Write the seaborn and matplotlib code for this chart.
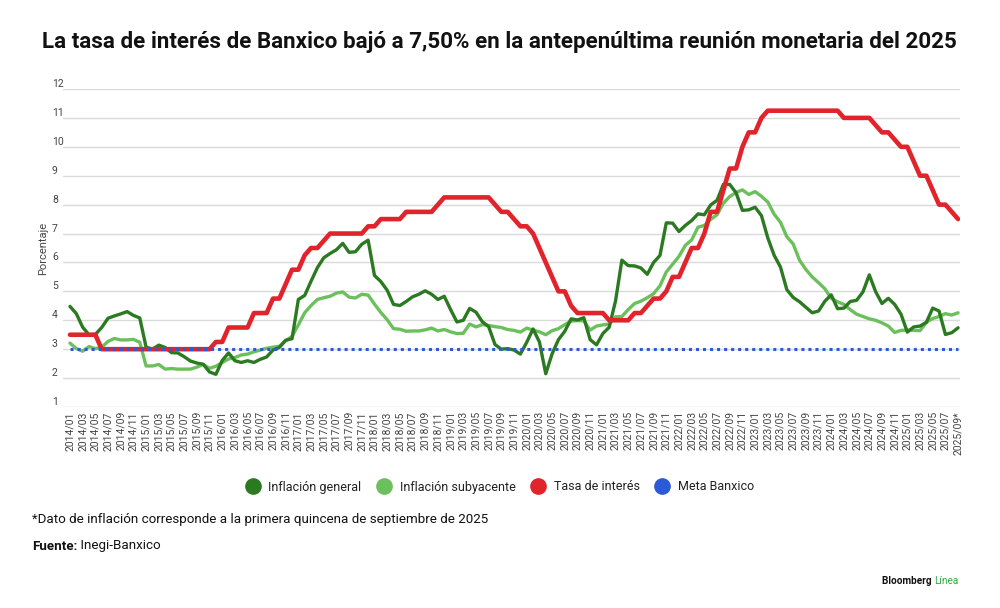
import numpy as np
import pandas as pd
import matplotlib
matplotlib.use("Agg")
import matplotlib.pyplot as plt
import seaborn as sns
from matplotlib.lines import Line2D

# monthly data, 2014/01 .. 2025/09 (last = first half of September 2025)
inflacion_general = [
    4.48, 4.23, 3.76, 3.50, 3.51, 3.75, 4.07, 4.15, 4.22, 4.30, 4.17, 4.08,  # 2014
    3.07, 3.00, 3.14, 3.06, 2.88, 2.87, 2.74, 2.59, 2.52, 2.48, 2.21, 2.13,  # 2015
    2.61, 2.87, 2.60, 2.54, 2.60, 2.54, 2.65, 2.73, 2.97, 3.06, 3.31, 3.36,  # 2016
    4.72, 4.86, 5.35, 5.82, 6.16, 6.31, 6.44, 6.66, 6.35, 6.37, 6.63, 6.77,  # 2017
    5.55, 5.34, 5.04, 4.55, 4.51, 4.65, 4.81, 4.90, 5.02, 4.90, 4.72, 4.83,  # 2018
    4.37, 3.94, 4.00, 4.41, 4.28, 3.95, 3.78, 3.16, 3.00, 3.02, 2.97, 2.83,  # 2019
    3.24, 3.70, 3.25, 2.15, 2.84, 3.33, 3.62, 4.05, 4.01, 4.09, 3.33, 3.15,  # 2020
    3.54, 3.76, 4.67, 6.08, 5.89, 5.88, 5.81, 5.59, 6.00, 6.24, 7.37, 7.36,  # 2021
    7.07, 7.28, 7.45, 7.68, 7.65, 7.99, 8.15, 8.70, 8.70, 8.41, 7.80, 7.82,  # 2022
    7.91, 7.62, 6.85, 6.25, 5.84, 5.06, 4.79, 4.64, 4.45, 4.26, 4.32, 4.66,  # 2023
    4.88, 4.40, 4.42, 4.65, 4.69, 4.98, 5.57, 4.99, 4.58, 4.76, 4.55, 4.21,  # 2024
    3.59, 3.77, 3.80, 3.93, 4.42, 4.32, 3.51, 3.57, 3.74,                    # 2025
]
inflacion_subyacente = [
    3.21, 3.02, 2.93, 3.09, 3.02, 3.07, 3.27, 3.37, 3.32, 3.32, 3.34, 3.24,
    2.42, 2.42, 2.47, 2.31, 2.33, 2.31, 2.31, 2.31, 2.38, 2.47, 2.34, 2.41,
    2.54, 2.66, 2.71, 2.80, 2.83, 2.91, 2.97, 3.03, 3.07, 3.10, 3.29, 3.44,
    3.84, 4.26, 4.51, 4.72, 4.78, 4.83, 4.94, 4.98, 4.80, 4.77, 4.90, 4.87,
    4.56, 4.27, 4.02, 3.71, 3.69, 3.62, 3.63, 3.63, 3.67, 3.73, 3.63, 3.68,
    3.60, 3.54, 3.55, 3.87, 3.77, 3.85, 3.82, 3.78, 3.75, 3.68, 3.65, 3.59,
    3.73, 3.66, 3.60, 3.50, 3.64, 3.71, 3.85, 3.97, 3.99, 3.98, 3.66, 3.80,
    3.84, 3.87, 4.12, 4.13, 4.37, 4.58, 4.66, 4.78, 4.92, 5.19, 5.67, 5.94,
    6.21, 6.59, 6.78, 7.22, 7.28, 7.49, 7.65, 8.05, 8.28, 8.42, 8.51, 8.35,
    8.45, 8.29, 8.09, 7.67, 7.39, 6.89, 6.64, 6.08, 5.76, 5.50, 5.30, 5.09,
    4.76, 4.64, 4.55, 4.37, 4.21, 4.13, 4.05, 4.00, 3.91, 3.80, 3.58, 3.65,
    3.66, 3.65, 3.64, 3.93, 4.06, 4.13, 4.23, 4.18, 4.26,
]
tasa_interes = [
    3.50, 3.50, 3.50, 3.50, 3.50, 3.00, 3.00, 3.00, 3.00, 3.00, 3.00, 3.00,
    3.00, 3.00, 3.00, 3.00, 3.00, 3.00, 3.00, 3.00, 3.00, 3.00, 3.00, 3.25,
    3.25, 3.75, 3.75, 3.75, 3.75, 4.25, 4.25, 4.25, 4.75, 4.75, 5.25, 5.75,
    5.75, 6.25, 6.50, 6.50, 6.75, 7.00, 7.00, 7.00, 7.00, 7.00, 7.00, 7.25,
    7.25, 7.50, 7.50, 7.50, 7.50, 7.75, 7.75, 7.75, 7.75, 7.75, 8.00, 8.25,
    8.25, 8.25, 8.25, 8.25, 8.25, 8.25, 8.25, 8.00, 7.75, 7.75, 7.50, 7.25,
    7.25, 7.00, 6.50, 6.00, 5.50, 5.00, 5.00, 4.50, 4.25, 4.25, 4.25, 4.25,
    4.25, 4.00, 4.00, 4.00, 4.00, 4.25, 4.25, 4.50, 4.75, 4.75, 5.00, 5.50,
    5.50, 6.00, 6.50, 6.50, 7.00, 7.75, 7.75, 8.50, 9.25, 9.25, 10.00, 10.50,
    10.50, 11.00, 11.25, 11.25, 11.25, 11.25, 11.25, 11.25, 11.25, 11.25, 11.25, 11.25,
    11.25, 11.25, 11.00, 11.00, 11.00, 11.00, 11.00, 10.75, 10.50, 10.50, 10.25, 10.00,
    10.00, 9.50, 9.00, 9.00, 8.50, 8.00, 8.00, 7.75, 7.50,
]
meta_banxico = 3.0

periodos = [f"{y}/{m:02d}" for y in range(2014, 2026) for m in range(1, 13)][:len(tasa_interes)]
etiquetas = periodos[::2]
etiquetas[-1] = etiquetas[-1] + "*"

df = pd.DataFrame({
    "x": np.arange(len(periodos)),
    "general": inflacion_general,
    "subyacente": inflacion_subyacente,
    "tasa": tasa_interes,
})
df["meta"] = meta_banxico

c_general = "#2b7a22"
c_suby = "#6cc05c"
c_tasa = "#e1232b"
c_meta = "#2a5ad8"

sns.set_theme(style="white")
plt.rcParams["font.family"] = ["Roboto", "DejaVu Sans"]

fig = plt.figure(figsize=(10, 6.08), dpi=100)
ax = fig.add_axes([0.063, 1 - 407 / 608, 0.897, (407 - 89) / 608])

sns.lineplot(data=df, x="x", y="subyacente", color=c_suby, linewidth=2.4, ax=ax, zorder=3)
sns.lineplot(data=df, x="x", y="general", color=c_general, linewidth=2.4, ax=ax, zorder=4)
sns.lineplot(data=df, x="x", y="tasa", color=c_tasa, linewidth=3.3, ax=ax, zorder=5)
sns.lineplot(data=df, x="x", y="meta", color=c_meta, linewidth=2.2, linestyle=(0, (1, 1.3)),
             ax=ax, zorder=6)

ax.set_xlim(-1.1, 140.3)
ax.set_ylim(1, 12)
ax.set_yticks(range(1, 13))
ax.set_yticklabels([str(v) for v in range(1, 13)], ha="left", va="bottom",
                   fontsize=7.5, color="#444444")
ax.tick_params(axis="y", length=0, pad=8)
ax.set_xticks(df["x"][::2])
ax.set_xticklabels(etiquetas, rotation=90, fontsize=7.5, color="#444444")
ax.tick_params(axis="x", length=0, pad=3)
ax.grid(axis="y", color="#dadada", linewidth=1)
ax.grid(axis="x", visible=False)
for s in ax.spines.values():
    s.set_visible(False)
ax.set_xlabel("")
ax.set_ylabel("Porcentaje", fontsize=8, color="#444444")
ax.yaxis.set_label_coords(-0.017, 0.5)

fig.text(0.499, 1 - 42 / 608,
         "La tasa de interés de Banxico bajó a 7,50% en la antepenúltima reunión monetaria del 2025",
         ha="center", va="center", fontsize=16.1, fontweight="bold", color="#111111")

handles = [Line2D([], [], marker="o", linestyle="none", markersize=11, color=c)
           for c in (c_general, c_suby, c_tasa, c_meta)]
fig.legend(handles, ["Inflación general", "Inflación subyacente", "Tasa de interés", "Meta Banxico"],
           loc="center", bbox_to_anchor=(0.497, 1 - 487 / 608), ncol=4, frameon=False,
           fontsize=9, handletextpad=0.25, columnspacing=0.8, labelcolor="#222222")

fig.text(0.032, 1 - 520 / 608,
         "*Dato de inflación corresponde a la primera quincena de septiembre de 2025",
         ha="left", va="center", fontsize=9.6, color="#111111")
t_fuente = fig.text(0.032, 1 - 546 / 608, "Fuente:", ha="left", va="center",
                    fontsize=9.6, fontweight="bold", color="#111111")
ax.annotate(" Inegi-Banxico", xy=(1, 0), xycoords=t_fuente, ha="left", va="bottom",
            fontsize=9.6, color="#111111", annotation_clip=False)

t_linea = fig.text(0.958, 1 - 581 / 608, "Línea", ha="right", va="center",
                   fontsize=7.2, color="#2ea84a")
ax.annotate("Bloomberg ", xy=(0, 0), xycoords=t_linea, ha="right", va="bottom",
            fontsize=7.2, fontweight="bold", color="#111111", annotation_clip=False)

fig.savefig("out.png", dpi=100, facecolor="white")
